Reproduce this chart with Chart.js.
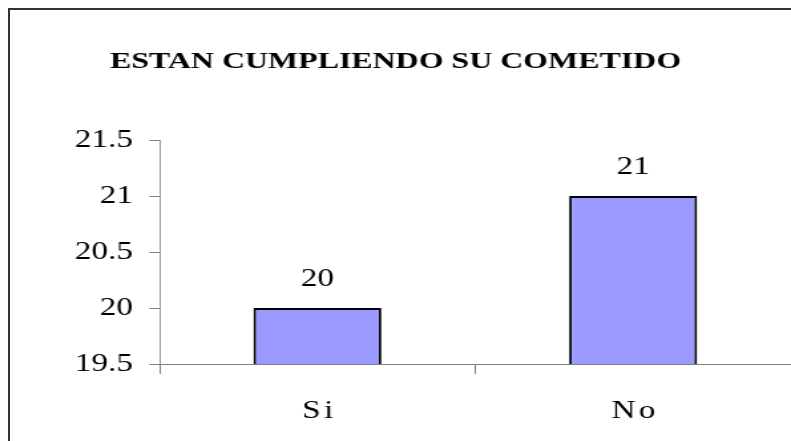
<!DOCTYPE html>
<html lang="es">

<head>
    <meta charset="UTF-8">
    <title>Estan cumpliendo su cometido</title>
    <script src="https://cdn.jsdelivr.net/npm/chart.js"></script>
    <style>
        body {
            margin: 0;
            background: #fff;
            overflow: hidden;
        }
        .frame {
            position: absolute;
            left: 8px;
            top: 8px;
            width: 800px;
            height: 450px;
            border-top: 2px solid #333;
            border-left: 2px solid #333;
        }
        /* the original picture is stretched sideways, so is the canvas */
        .stretch {
            position: absolute;
            left: 0;
            top: 0;
            transform: scaleX(1.3294);
            transform-origin: 0 0;
        }
    </style>
</head>

<body>
    <div class="frame"></div>
    <div class="stretch">
        <canvas id="chart" width="595" height="441"></canvas>
    </div>

    <script>
        var categories = ['Si', 'No'];
        var counts = [20, 21];
        var yMin = 19.5;
        var yMax = 21.5;
        var yStep = 0.5;

        var serif = '"Liberation Serif", "DejaVu Serif", "Times New Roman", serif';

        // x labels are spaced out in the original
        var spacingPlugin = {
            id: 'spacing',
            beforeDraw: function (chart) {
                var xs = chart.scales.x;
                if (!xs._spaced) {
                    var orig = xs.drawLabels;
                    xs.drawLabels = function (area) {
                        var c = this.ctx;
                        c.save();
                        c.letterSpacing = '2.5px';
                        orig.call(this, area);
                        c.restore();
                    };
                    xs._spaced = true;
                }
            }
        };

        var valueLabels = {
            id: 'valueLabels',
            afterDatasetsDraw: function (chart) {
                var ctx = chart.ctx;
                var meta = chart.getDatasetMeta(0);
                ctx.save();
                ctx.font = '25px ' + serif;
                ctx.fillStyle = '#000';
                ctx.textAlign = 'center';
                ctx.textBaseline = 'alphabetic';
                meta.data.forEach(function (bar, i) {
                    ctx.fillText(String(counts[i]), bar.x, bar.y - 22);
                });
                ctx.restore();
            }
        };

        var ctx = document.getElementById('chart').getContext('2d');
        var myChart = new Chart(ctx, {
            type: 'bar',
            data: {
                labels: categories,
                datasets: [{
                    data: counts,
                    backgroundColor: '#9999ff',
                    borderColor: '#000',
                    borderWidth: 2,
                    borderSkipped: 'bottom',
                    categoryPercentage: 1,
                    barPercentage: 0.405
                }]
            },
            options: {
                responsive: false,
                animation: false,
                layout: { padding: 0 },
                plugins: {
                    legend: { display: false },
                    tooltip: { enabled: false },
                    title: {
                        display: true,
                        text: 'ESTAN CUMPLIENDO SU COMETIDO',
                        color: '#000',
                        font: { family: serif, size: 24, weight: 'bold', lineHeight: 1.2 },
                        padding: { top: 47.6, bottom: 63.6 }
                    }
                },
                scales: {
                    x: {
                        grid: {
                            offset: true,
                            drawOnChartArea: false,
                            drawTicks: true,
                            tickLength: 10,
                            color: '#808080'
                        },
                        border: { color: '#808080', width: 1 },
                        ticks: {
                            color: '#000',
                            font: { family: serif, size: 25 },
                            padding: 22,
                            labelOffset: 1.5
                        },
                        afterFit: function (scale) { scale.height = 77; }
                    },
                    y: {
                        min: yMin,
                        max: yMax,
                        grid: {
                            drawOnChartArea: false,
                            drawTicks: true,
                            tickLength: 7.5,
                            color: '#808080'
                        },
                        border: { color: '#808080', width: 0.8 },
                        ticks: {
                            stepSize: yStep,
                            color: '#000',
                            font: { family: serif, size: 25 },
                            padding: 12.5,
                            callback: function (value) { return String(value); }
                        },
                        afterFit: function (scale) { scale.width = 120; }
                    }
                }
            },
            plugins: [spacingPlugin, valueLabels]
        });
        myChart.draw();
    </script>
</body>

</html>
